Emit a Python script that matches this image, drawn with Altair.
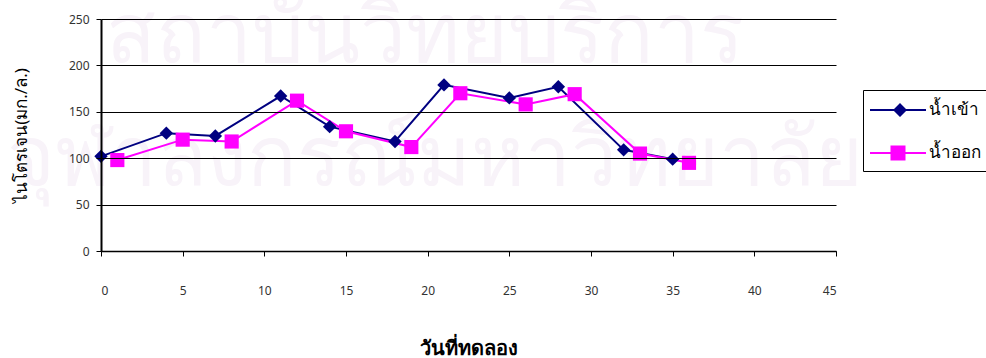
import altair as alt
import pandas as pd

# ---- data ----
series_names = ["น้ำเข้า", "น้ำออก"]
series_colors = ["#000080", "#FF00FF"]
days_in = [0, 4, 7, 11, 14, 18, 21, 25, 28, 32, 35]
n_in = [102, 127, 124, 167, 134, 118, 179, 165, 177, 109, 99]
days_out = [1, 5, 8, 12, 15, 19, 22, 26, 29, 33, 36]
n_out = [98, 120, 118, 162, 129, 112, 170, 158, 169, 105, 95]
x_ticks = [0, 5, 10, 15, 20, 25, 30, 35, 40, 45]
y_ticks = [0, 50, 100, 150, 200, 250]
x_title = "วันที่ทดลอง"
y_title = "ไนโตรเจน(มก./ล.)"
watermark_rows = ["สถาบันวิทยบริการ", "จุฬาลงกรณ์มหาวิทยาลัย"]

df = pd.DataFrame({
    "day": days_in + days_out,
    "n": n_in + n_out,
    "series": [series_names[0]] * len(days_in) + [series_names[1]] * len(days_out),
})

W, H = 735, 232
FONT = "Noto Sans, DejaVu Sans, sans-serif"

x_enc = alt.X("day:Q", scale=alt.Scale(domain=[0, 45], nice=False, zero=False),
              axis=alt.Axis(values=x_ticks, title=x_title, grid=False, labelPadding=29,
                            titlePadding=42, titleFontWeight="bold", titleFontSize=20,
                            tickSize=5, labelFontSize=12, format="d", zindex=1))
y_enc = alt.Y("n:Q", scale=alt.Scale(domain=[0, 250], nice=False),
              axis=alt.Axis(values=y_ticks, title=y_title, grid=True, labelPadding=7,
                            titlePadding=38, titleFontWeight="normal", titleFontSize=17,
                            tickSize=5, labelFontSize=12, zindex=1, domainWidth=2))

# legend symbols: a filled 2px bar (the line) plus the marker, in one path
legend_paths = [
    "M-1.3,-0.1H4.3V0.1H-1.3ZM1.7,-0.7L2.4,0L1.7,0.7L1,0Z",
    "M-1.3,-0.1H4.3V0.1H-1.3ZM0.75,-0.75H2.25V0.75H0.75Z",
]
leg = alt.Legend(title=None, orient="none", legendX=762, legendY=71,
                 strokeColor="black", padding=10, fillColor="white",
                 symbolSize=400, symbolStrokeWidth=0, symbolOpacity=1,
                 labelFont=FONT, labelFontSize=17, labelColor="black",
                 labelOffset=36, rowPadding=25)
color_scale = alt.Scale(domain=series_names, range=series_colors)
color_enc = alt.Color("series:N", scale=color_scale, legend=leg)

# faint background watermark
wm = pd.DataFrame({"t": watermark_rows})
wm1 = alt.Chart(wm.iloc[[0]]).mark_text(font=FONT, fontSize=82, color="#f8f3f9",
                                        align="center", baseline="alphabetic").encode(
    text="t:N", x=alt.value(324), y=alt.value(43))
wm2 = alt.Chart(wm.iloc[[1]]).mark_text(font=FONT, fontSize=82, color="#f8f3f9",
                                        align="center", baseline="alphabetic").encode(
    text="t:N", x=alt.value(334), y=alt.value(166))

base = alt.Chart(df)

lines = base.mark_line(strokeWidth=2).encode(
    x=x_enc, y=y_enc, color=color_enc, detail="series:N",
)

pts_in = base.transform_filter(alt.datum.series == series_names[0]).mark_point(
    filled=True, opacity=1, size=180, shape="diamond").encode(
    x="day:Q", y="n:Q", color=color_enc,
)
pts_out = base.transform_filter(alt.datum.series == series_names[1]).mark_point(
    filled=True, opacity=1, size=200, shape="square").encode(
    x="day:Q", y="n:Q", color=color_enc,
)

legend_layer = base.transform_filter("false").mark_point(filled=True, opacity=1).encode(
    x="day:Q", y="n:Q",
    color=color_enc,
    shape=alt.Shape("series:N", scale=alt.Scale(domain=series_names, range=legend_paths), legend=leg),
)

chart = alt.layer(wm1, wm2, lines, pts_in, pts_out, legend_layer).properties(
    width=W, height=H,
    autosize=alt.AutoSizeParams(type="none"),
    padding={"left": 101, "top": 19, "right": 150, "bottom": 107},
    background="white",
).configure_view(stroke=None).configure_axis(
    domainColor="black", tickColor="black", gridColor="black", gridWidth=1,
    labelColor="#333333", titleColor="black", labelFont=FONT, titleFont=FONT,
    domainWidth=1.5,
)

chart.save("out.html", embed_options={"renderer": "svg", "actions": False})
